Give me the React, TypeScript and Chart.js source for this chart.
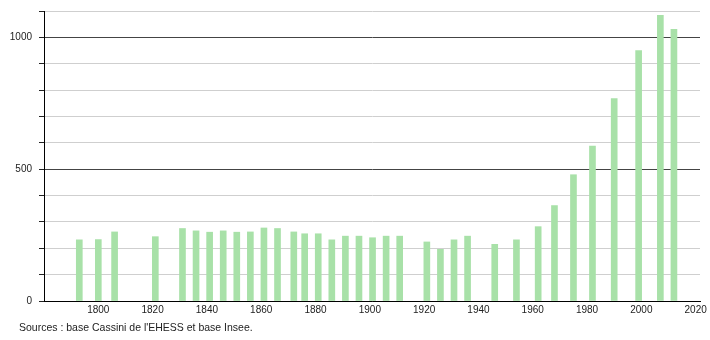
import { useEffect, useRef } from "react";
import { Chart, registerables } from "chart.js";

Chart.register(...registerables);

const years = [
  1793, 1800, 1806, 1821, 1831, 1836, 1841, 1846, 1851, 1856, 1861, 1866,
  1872, 1876, 1881, 1886, 1891, 1896, 1901, 1906, 1911, 1921, 1926, 1931,
  1936, 1946, 1954, 1962, 1968, 1975, 1982, 1990, 1999, 2007, 2012,
];
const population = [
  232, 233, 262, 244, 275, 266, 261, 266, 261, 262, 277, 275,
  262, 255, 255, 232, 246, 246, 240, 246, 246, 224, 196, 232,
  246, 215, 232, 282, 362, 479, 588, 768, 950, 1084, 1030,
];
const xTickYears = [1800, 1820, 1840, 1860, 1880, 1900, 1920, 1940, 1960, 1980, 2000, 2020];
const yTickValues = [0, 100, 200, 300, 400, 500, 600, 700, 800, 900, 1000, 1100];
const yLabelValues = [0, 500, 1000];
const sourceText = "Sources : base Cassini de l'EHESS et base Insee.";

const FONT = "'Liberation Sans', Arial, Helvetica, sans-serif";

export default function App() {
  const ref = useRef<HTMLCanvasElement>(null);

  useEffect(() => {
    document.body.style.margin = "0";
    const canvas = ref.current;
    if (!canvas) return;
    const chart = new Chart(canvas, {
      type: "bar",
      data: {
        datasets: [
          {
            data: years.map((y, i) => ({ x: y, y: population[i] })),
            backgroundColor: "rgb(168,225,168)",
            borderWidth: 0,
            barThickness: 6,
          },
        ],
      },
      options: {
        responsive: false,
        maintainAspectRatio: false,
        animation: false,
        layout: { padding: { top: 11, right: 10, left: 0, bottom: 0 } },
        plugins: {
          legend: { display: false },
          tooltip: { enabled: false },
          title: { display: false },
        },
        scales: {
          x: {
            type: "linear",
            min: 1780,
            max: 2021.6,
            offset: false,
            grid: { display: false, drawTicks: false, offset: false },
            border: { display: true, color: "#000", width: 1 },
            afterBuildTicks: (s: any) => {
              s.ticks = xTickYears.map((v) => ({ value: v }));
            },
            afterFit: (s: any) => {
              s.height = 39;
            },
            ticks: {
              autoSkip: false,
              maxRotation: 0,
              minRotation: 0,
              padding: 3,
              color: "#222",
              font: { family: FONT, size: 10 },
              callback: (v: any) => String(v),
            },
          },
          y: {
            min: 0,
            max: 1100,
            afterBuildTicks: (s: any) => {
              s.ticks = yTickValues.map((v) => ({ value: v }));
            },
            afterFit: (s: any) => {
              s.width = 44;
              s.paddingTop = 0;
              s.paddingBottom = 0;
            },
            grid: {
              color: (ctx: any) =>
                ctx.tick && ctx.tick.value % 500 === 0 ? "#444" : "#cfcfcf",
              tickColor: "#222",
              tickLength: 5,
              lineWidth: 1,
            },
            border: { display: true, color: "#000", width: 1 },
            ticks: {
              padding: 7,
              color: "#222",
              font: { family: FONT, size: 10 },
              callback: (v: any) => (yLabelValues.includes(Number(v)) ? String(v) : ""),
            },
          },
        },
      },
    });
    return () => chart.destroy();
  }, []);

  return (
    <div style={{ position: "relative", width: 710, height: 340, background: "#fff" }}>
      <canvas ref={ref} width={710} height={340} style={{ display: "block" }} />
      <div
        style={{
          position: "absolute",
          left: 19,
          top: 321,
          fontFamily: FONT,
          fontSize: 10.5,
          lineHeight: "13px",
          color: "#222",
          whiteSpace: "nowrap",
        }}
      >
        {sourceText}
      </div>
    </div>
  );
}
